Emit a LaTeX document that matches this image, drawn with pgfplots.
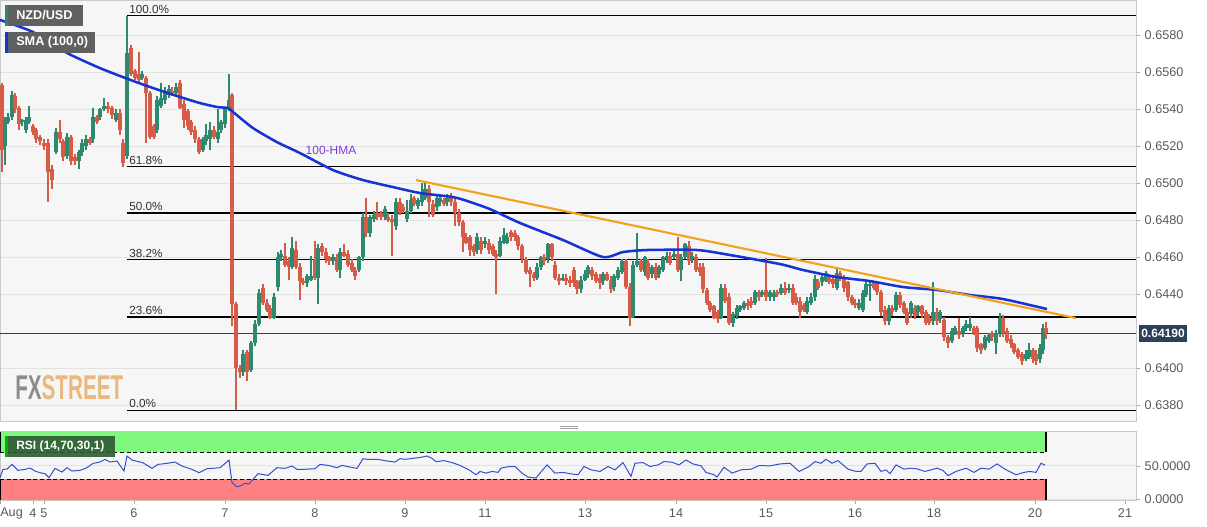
\documentclass[border=0pt]{standalone}
\usepackage{fontspec}
\setmainfont{Liberation Sans}
\usepackage{pgfplots}
\usepackage{pgfplotstable}
\pgfplotsset{compat=1.18}

\definecolor{cgreen}{HTML}{2E8A6E}
\definecolor{cred}{HTML}{D75C48}
\definecolor{smablue}{HTML}{1633D4}
\definecolor{tlorange}{HTML}{F4A11D}
\definecolor{rsiblue}{HTML}{3350D0}
\definecolor{zgreen}{HTML}{80F880}
\definecolor{zred}{HTML}{FF8080}
\definecolor{panelbg}{HTML}{F6F6F6}
\definecolor{gridc}{HTML}{E2E2E2}
\definecolor{borderc}{HTML}{CACACA}
\definecolor{tickc}{HTML}{5A5A5A}
\definecolor{lblbox}{HTML}{606060}
\definecolor{pricec}{HTML}{2D4059}
\definecolor{hmac}{HTML}{7D3CD8}
\definecolor{fxgray}{HTML}{8C8C8C}
\definecolor{fxorange}{HTML}{E9B87C}
\definecolor{rsibox}{HTML}{2F5A32}

% hourly NZD/USD candles, x in chart pixels, u = 1 for a rising candle
\pgfplotstableread{
x o h l c u
2 0.6553 0.6554 0.6506 0.6518 0
5 0.6520 0.6536 0.6510 0.6534 1
8 0.6533 0.6538 0.6532 0.6536 1
12 0.6536 0.6550 0.6534 0.6548 1
15 0.6547 0.6549 0.6538 0.6540 0
19 0.6541 0.6542 0.6529 0.6532 0
22 0.6533 0.6535 0.6531 0.6534 1
26 0.6529 0.6536 0.6527 0.6534 1
29 0.6533 0.6542 0.6532 0.6536 1
33 0.6531 0.6532 0.6526 0.6528 0
36 0.6529 0.6530 0.6522 0.6524 0
40 0.6525 0.6526 0.6521 0.6523 0
44 0.6522 0.6524 0.6518 0.6520 0
48 0.6522 0.6524 0.6490 0.6506 0
52 0.6508 0.6510 0.6497 0.6502 0
56 0.6517 0.6530 0.6516 0.6528 1
60 0.6528 0.6534 0.6522 0.6524 0
63 0.6523 0.6524 0.6512 0.6514 0
67 0.6515 0.6527 0.6513 0.6525 1
71 0.6525 0.6526 0.6510 0.6512 0
75 0.6514 0.6516 0.6510 0.6512 0
79 0.6512 0.6518 0.6508 0.6517 1
82 0.6517 0.6524 0.6515 0.6522 1
86 0.6520 0.6526 0.6518 0.6524 1
90 0.6524 0.6525 0.6521 0.6522 0
93 0.6524 0.6541 0.6522 0.6536 1
97 0.6536 0.6537 0.6532 0.6533 0
100 0.6536 0.6541 0.6534 0.6540 1
104 0.6540 0.6546 0.6539 0.6542 1
108 0.6542 0.6544 0.6538 0.6540 0
112 0.6541 0.6542 0.6535 0.6537 0
116 0.6534 0.6540 0.6533 0.6538 1
120 0.6538 0.6540 0.6526 0.6529 0
123 0.6522 0.6524 0.6509 0.6511 0
127 0.6515 0.65905 0.6513 0.65705 1
131 0.6573 0.6575 0.6558 0.6559 0
135 0.6561 0.6562 0.6556 0.6557 0
139 0.6559 0.6571 0.6554 0.6556 0
142 0.6557 0.6561 0.6556 0.6559 1
146 0.6557 0.6558 0.6522 0.6549 0
150 0.6549 0.6550 0.6524 0.6525 0
154 0.6531 0.6532 0.6524 0.6525 0
157 0.6529 0.6547 0.6527 0.6545 1
161 0.6542 0.6554 0.6541 0.6546 1
165 0.6545 0.6552 0.6543 0.6550 1
169 0.6548 0.6553 0.6546 0.6551 1
172 0.6550 0.6552 0.6547 0.6549 0
176 0.6549 0.6554 0.6547 0.6552 1
180 0.6554 0.6556 0.6540 0.6541 0
184 0.6543 0.6545 0.6530 0.6534 0
188 0.6539 0.6540 0.6529 0.6531 0
191 0.6533 0.6534 0.6526 0.6528 0
195 0.6529 0.6531 0.6522 0.6524 0
199 0.6524 0.6525 0.6516 0.6517 0
203 0.6518 0.6525 0.6517 0.6524 1
206 0.6523 0.6532 0.6521 0.6526 1
210 0.6524 0.6533 0.6518 0.6529 1
214 0.6529 0.6531 0.6524 0.6525 0
218 0.6524 0.6540 0.6522 0.6528 1
221 0.6529 0.6534 0.6527 0.6533 1
225 0.6532 0.6541 0.6530 0.6540 1
229 0.6540 0.6559 0.6539 0.6545 1
232 0.6548 0.6549 0.6423 0.6435 0
236 0.6435 0.6436 0.63775 0.6400 0
240 0.6400 0.6402 0.6395 0.6398 0
243 0.6398 0.6410 0.6396 0.6408 1
247 0.6409 0.6410 0.6393 0.6398 0
251 0.6399 0.6415 0.6398 0.6414 1
255 0.6414 0.6426 0.6412 0.6424 1
259 0.6424 0.6443 0.6423 0.6441 1
263 0.64435 0.64455 0.64345 0.64355 0
267 0.64355 0.64375 0.64305 0.64315 0
270 0.64325 0.64345 0.64265 0.64275 0
274 0.64275 0.64405 0.64265 0.64385 1
278 0.6444 0.6463 0.6442 0.6460 1
281 0.6460 0.6464 0.6458 0.6462 1
285 0.6461 0.6468 0.6455 0.6456 0
289 0.6458 0.6460 0.6448 0.6455 0
292 0.6455 0.6471 0.6454 0.6465 1
296 0.6464 0.6469 0.6454 0.6455 0
300 0.6455 0.6457 0.6437 0.6447 0
303 0.6447 0.6449 0.6445 0.6446 0
307 0.6446 0.6451 0.6444 0.6450 1
311 0.6448 0.6461 0.6447 0.6450 1
315 0.6459 0.6469 0.6448 0.6449 0
318 0.6449 0.6467 0.6435 0.6465 1
322 0.6466 0.6468 0.6461 0.6463 0
326 0.6463 0.6465 0.6457 0.6459 0
329 0.6460 0.6461 0.6456 0.6458 0
333 0.6458 0.6462 0.6456 0.6460 1
337 0.6460 0.6462 0.6452 0.6453 0
340 0.6453 0.6465 0.6449 0.6463 1
344 0.6463 0.6467 0.6460 0.6461 0
348 0.6462 0.6464 0.6455 0.6456 0
352 0.6457 0.6459 0.6452 0.6453 0
355 0.6453 0.6455 0.6448 0.6450 0
359 0.6453 0.6461 0.6452 0.6460 1
363 0.6460 0.6484 0.6458 0.6482 1
366 0.6482 0.6492 0.6471 0.6473 0
370 0.6473 0.6483 0.6471 0.6482 1
374 0.6481 0.6485 0.6479 0.6483 1
377 0.6484 0.6490 0.6480 0.6482 0
381 0.6484 0.6485 0.6480 0.6482 0
385 0.6482 0.6488 0.6480 0.6486 1
388 0.6482 0.6484 0.6479 0.6480 0
392 0.6481 0.6483 0.6461 0.6479 0
396 0.6477 0.6492 0.6475 0.6490 1
400 0.6490 0.6492 0.6483 0.6484 0
403 0.6487 0.6489 0.6484 0.6485 0
407 0.6481 0.6491 0.6479 0.6485 1
411 0.6485 0.6494 0.6484 0.6491 1
414 0.6492 0.6493 0.6488 0.6489 0
418 0.6488 0.6492 0.6486 0.6491 1
422 0.6490 0.6500 0.6488 0.6495 1
425 0.6492 0.6500 0.6491 0.6497 1
429 0.6497 0.6499 0.6482 0.6490 0
433 0.6489 0.6491 0.6482 0.6483 0
437 0.6487 0.6493 0.6485 0.6492 1
440 0.6490 0.6494 0.6488 0.6492 1
444 0.6491 0.6492 0.6488 0.6489 0
447 0.6490 0.6494 0.6488 0.6492 1
451 0.6493 0.6495 0.6488 0.6490 0
455 0.6490 0.6492 0.6477 0.6484 0
459 0.6484 0.6486 0.6477 0.6479 0
463 0.6479 0.6480 0.6463 0.6471 0
466 0.6471 0.6473 0.6467 0.6468 0
470 0.6471 0.6472 0.6461 0.6464 0
474 0.6466 0.6467 0.6461 0.6463 0
477 0.6464 0.6473 0.6462 0.6471 1
481 0.6469 0.6471 0.6462 0.6464 0
485 0.6467 0.6471 0.6465 0.6469 1
489 0.6468 0.6470 0.6462 0.6464 0
493 0.6466 0.6467 0.6461 0.6462 0
496 0.6462 0.6464 0.6440 0.6460 0
500 0.6461 0.6471 0.6460 0.6469 1
504 0.6468 0.6476 0.6467 0.6472 1
507 0.6468 0.6473 0.6467 0.6471 1
511 0.6474 0.6475 0.6469 0.6471 0
515 0.6473 0.6475 0.6469 0.6471 0
518 0.6471 0.6472 0.6464 0.6466 0
522 0.6466 0.6467 0.6457 0.6459 0
526 0.6459 0.6460 0.6451 0.6452 0
530 0.6453 0.6455 0.6444 0.6451 0
534 0.6451 0.6452 0.6447 0.6449 0
537 0.6449 0.6457 0.6448 0.6455 1
541 0.6455 0.6461 0.6453 0.6460 1
544 0.6460 0.6462 0.6456 0.6458 0
548 0.6459 0.6468 0.6457 0.6467 1
552 0.6467 0.6468 0.6458 0.6460 0
555 0.6456 0.6458 0.6448 0.6449 0
559 0.6449 0.6451 0.6445 0.6447 0
563 0.6448 0.6451 0.6447 0.6449 1
566 0.6449 0.6451 0.6445 0.6447 0
570 0.6448 0.6450 0.6444 0.6446 0
574 0.6453 0.6455 0.6444 0.6446 0
577 0.6447 0.6448 0.6440 0.6443 0
581 0.6443 0.6450 0.6441 0.6448 1
585 0.6448 0.6453 0.6447 0.6451 1
588 0.6451 0.6456 0.6449 0.6455 1
592 0.6453 0.6455 0.6448 0.6450 0
596 0.6451 0.6452 0.6446 0.6447 0
600 0.6449 0.6451 0.6443 0.6446 0
603 0.6447 0.6452 0.6445 0.6451 1
607 0.6451 0.6452 0.6447 0.6448 0
611 0.6448 0.6450 0.6441 0.6443 0
614 0.6444 0.6451 0.6442 0.6450 1
618 0.6449 0.6455 0.6448 0.6453 1
622 0.6452 0.6459 0.6451 0.6458 1
626 0.6458 0.6459 0.6443 0.6444 0
630 0.6444 0.6446 0.6423 0.6427 0
633 0.6428 0.6458 0.6427 0.6456 1
637 0.6456 0.6473 0.6455 0.6458 1
641 0.6458 0.6459 0.6452 0.6453 0
645 0.6452 0.6461 0.6450 0.6460 1
648 0.6457 0.6459 0.6448 0.6449 0
652 0.6451 0.6456 0.6449 0.6455 1
656 0.6455 0.6457 0.6448 0.6449 0
659 0.6451 0.6456 0.6449 0.6455 1
663 0.6453 0.6461 0.6452 0.6460 1
667 0.6459 0.6463 0.6457 0.6461 1
670 0.6461 0.6463 0.6456 0.6457 0
674 0.6460 0.6464 0.6459 0.6462 1
678 0.6462 0.6471 0.6452 0.6453 0
681 0.6453 0.6462 0.6447 0.6460 1
685 0.6460 0.6468 0.6459 0.6467 1
689 0.6466 0.6469 0.6456 0.6458 0
692 0.6459 0.6463 0.6457 0.6461 1
696 0.6460 0.6462 0.6452 0.6453 0
700 0.6455 0.6457 0.6450 0.6452 0
703 0.6455 0.6457 0.6441 0.6443 0
707 0.64425 0.64435 0.64345 0.64355 0
710 0.64355 0.64365 0.64305 0.64315 0
714 0.64335 0.64345 0.64265 0.64275 0
718 0.64305 0.64315 0.64245 0.64265 0
721 0.64275 0.64455 0.64265 0.64435 1
725 0.64435 0.64455 0.64355 0.64365 0
729 0.64385 0.64405 0.64235 0.64245 0
733 0.64245 0.64305 0.64225 0.64295 1
737 0.64285 0.64345 0.64265 0.64325 1
740 0.64315 0.64345 0.64305 0.64335 1
744 0.64325 0.64365 0.64315 0.64355 1
748 0.64355 0.64375 0.64315 0.64335 0
751 0.64365 0.64385 0.64325 0.64345 0
755 0.64355 0.64425 0.64345 0.64415 1
759 0.64415 0.64425 0.64365 0.64385 0
762 0.64395 0.64425 0.64385 0.64415 1
766 0.64425 0.64595 0.64365 0.64385 0
770 0.64385 0.64425 0.64365 0.64415 1
774 0.64385 0.64425 0.64365 0.64405 1
777 0.64415 0.64425 0.64385 0.64395 0
781 0.64405 0.64455 0.64395 0.64435 1
785 0.64435 0.64465 0.64395 0.64405 0
789 0.64425 0.64455 0.64405 0.64435 1
793 0.64435 0.64455 0.64345 0.64355 0
796 0.64385 0.64405 0.64345 0.64355 0
800 0.64365 0.64385 0.64275 0.64305 0
804 0.64345 0.64355 0.64305 0.64315 0
807 0.64305 0.64385 0.64295 0.64365 1
811 0.64355 0.64405 0.64345 0.64385 1
815 0.64385 0.64505 0.64365 0.64485 1
818 0.64465 0.64485 0.64425 0.64435 0
822 0.64465 0.64505 0.64445 0.64495 1
826 0.64475 0.64525 0.64465 0.64515 1
829 0.64495 0.64505 0.64455 0.64465 0
833 0.64485 0.64505 0.64435 0.64455 0
837 0.64435 0.64535 0.64425 0.64515 1
840 0.64515 0.64525 0.64475 0.64485 0
844 0.64495 0.64505 0.64415 0.64435 0
848 0.64465 0.64475 0.64365 0.64385 0
852 0.64385 0.64395 0.64345 0.64355 0
855 0.64355 0.64375 0.64325 0.64345 0
859 0.64325 0.64375 0.64315 0.64355 1
863 0.64315 0.64425 0.64305 0.64405 1
866 0.64395 0.64465 0.64385 0.64455 1
870 0.64445 0.64465 0.64365 0.64455 1
874 0.64465 0.64475 0.64425 0.64435 0
877 0.64455 0.64465 0.64395 0.64415 0
881 0.64415 0.64425 0.64285 0.64305 0
885 0.64315 0.64335 0.64235 0.64255 0
889 0.64255 0.64345 0.64235 0.64325 1
892 0.64325 0.64345 0.64285 0.64305 0
896 0.64315 0.64415 0.64305 0.64395 1
900 0.64395 0.64415 0.64325 0.64345 0
904 0.64355 0.64365 0.64295 0.64305 0
907 0.64305 0.64325 0.64235 0.64245 0
911 0.64295 0.64365 0.64275 0.64355 1
915 0.64325 0.64345 0.64265 0.64285 0
918 0.64305 0.64345 0.64285 0.64335 1
922 0.64335 0.64345 0.64275 0.64295 0
926 0.64305 0.64315 0.64235 0.64245 0
929 0.64275 0.64295 0.64235 0.64245 0
933 0.64255 0.64465 0.64235 0.64305 1
937 0.64305 0.64325 0.64235 0.64255 0
940 0.64265 0.64315 0.64245 0.64305 1
944 0.6426 0.6428 0.6415 0.6417 0
948 0.6417 0.6418 0.6411 0.6414 0
952 0.6415 0.6422 0.6414 0.6420 1
955 0.6419 0.6423 0.6418 0.6422 1
959 0.6420 0.6427 0.6416 0.6418 0
963 0.6419 0.6423 0.6417 0.6422 1
966 0.6422 0.6426 0.6420 0.6424 1
970 0.6422 0.6428 0.6420 0.6424 1
974 0.6422 0.6423 0.6418 0.6419 0
977 0.6422 0.6423 0.6409 0.6411 0
981 0.6413 0.6414 0.6408 0.6410 0
985 0.6411 0.6418 0.6410 0.6417 1
989 0.6415 0.6419 0.6414 0.6418 1
992 0.6419 0.6420 0.6415 0.6417 0
996 0.6414 0.6421 0.6408 0.6419 1
1000 0.6419 0.6430 0.6417 0.6427 1
1003 0.6427 0.6429 0.6417 0.6419 0
1007 0.6420 0.6422 0.6414 0.6415 0
1011 0.6416 0.6418 0.6411 0.6413 0
1014 0.6413 0.6414 0.6408 0.6409 0
1018 0.6410 0.6411 0.6405 0.6406 0
1022 0.6408 0.6409 0.6402 0.6404 0
1026 0.6405 0.6410 0.6404 0.6408 1
1029 0.6406 0.6414 0.6405 0.6410 1
1033 0.6410 0.6411 0.6403 0.6405 0
1036 0.6408 0.6410 0.6402 0.6404 0
1040 0.6405 0.6413 0.6403 0.6411 1
1043 0.6410 0.6424 0.6408 0.6422 1
1046 0.6422 0.6425 0.6416 0.6419 0
}\candles

\pgfplotsset{
  panel/.style={scale only axis, width=852pt, xmin=0, xmax=1136,
    axis background/.style={fill=panelbg},
    axis line style={draw=borderc},
    tick align=outside, major tick length=3pt,
    tick style={draw=gray!70},
    ytick pos=right, yticklabel pos=right,
    scaled y ticks=false,
    ymajorgrids, grid style={draw=gridc},
    tick label style={font=\fontsize{9.5}{11}\selectfont, text=tickc},
    /pgf/number format/fixed, /pgf/number format/fixed zerofill,
    /pgf/number format/precision=4, /pgf/number format/assume math mode=true},
}

\begin{document}
\begin{tikzpicture}
\fill[white] (0,0) rectangle (905.25pt,-394.5pt);
\useasboundingbox (0,0) rectangle (905.25pt,-394.5pt);

% price panel
\begin{axis}[panel, at={(0pt,0pt)}, anchor=north west, height=316.3pt,
  ymin=0.63712, ymax=0.65991, xtick=\empty,
  ytick={0.638,0.640,0.644,0.646,0.648,0.650,0.652,0.654,0.656,0.658},
  colormap={candle}{color=(cred) color=(cgreen)},
  point meta min=0, point meta max=1]
% fibonacci retracement
\addplot[black, line width=0.8pt] coordinates {(127,0.65905) (1136,0.65905)};
\addplot[black, line width=0.8pt] coordinates {(127,0.65091) (1136,0.65091)};
\addplot[black, line width=0.8pt] coordinates {(127,0.64840) (1136,0.64840)};
\addplot[black, line width=0.8pt] coordinates {(127,0.64589) (1136,0.64589)};
\addplot[black, line width=0.8pt] coordinates {(127,0.64278) (1136,0.64278)};
\addplot[black, line width=0.8pt] coordinates {(127,0.63775) (1136,0.63775)};
% last price
\addplot[pricec, line width=0.7pt] coordinates {(0,0.64190) (1136,0.64190)};
% candles: wicks, then bodies
\addplot[-, line width=0.8pt, point meta=\thisrow{u},
  quiver={u=0, v=\thisrow{h}-\thisrow{l}, colored=mapped color,
    every arrow/.append style={line width=0.8pt}}]
  table[x=x, y=l] {\candles};
\addplot[-, line width=2.3pt, point meta=\thisrow{u},
  quiver={u=0, v=\thisrow{c}-\thisrow{o}, colored=mapped color,
    every arrow/.append style={line width=2.3pt}}]
  table[x=x, y=o] {\candles};
% 100-hour moving average
\addplot[smablue, line width=1.9pt, smooth, tension=0.4] coordinates {
(0,0.65883) (33,0.65818) (67,0.65705) (100,0.65623) (128,0.65564) (150,0.65521)
(180,0.65467) (200,0.65434) (217,0.65413) (228,0.65407) (233,0.65386) (253,0.65299)
(277,0.65223) (300,0.65164) (333,0.65072) (363,0.65018) (393,0.64980) (420,0.64948)
(453,0.64926) (467,0.64905) (490,0.64861) (520,0.64786) (563,0.64694) (603,0.64602)
(623,0.64629) (647,0.64640) (697,0.64640) (730,0.64613) (780,0.64564) (803,0.64532)
(837,0.64494) (870,0.64472) (903,0.64440) (937,0.64424) (970,0.64397) (1003,0.64375)
(1047,0.64321)};
% falling trend line
\addplot[tlorange, line width=1.6pt] coordinates {(416,0.65018) (1076,0.64272)};
\node[anchor=south west, inner sep=1.5pt, font=\fontsize{8.8}{10}\selectfont, text=black!80] at (axis cs:127,0.65905) {100.0\%};
\node[anchor=south west, inner sep=1.5pt, font=\fontsize{8.8}{10}\selectfont, text=black!80] at (axis cs:127,0.65091) {61.8\%};
\node[anchor=south west, inner sep=1.5pt, font=\fontsize{8.8}{10}\selectfont, text=black!80] at (axis cs:127,0.64840) {50.0\%};
\node[anchor=south west, inner sep=1.5pt, font=\fontsize{8.8}{10}\selectfont, text=black!80] at (axis cs:127,0.64589) {38.2\%};
\node[anchor=south west, inner sep=1.5pt, font=\fontsize{8.8}{10}\selectfont, text=black!80] at (axis cs:127,0.64278) {23.6\%};
\node[anchor=south west, inner sep=1.5pt, font=\fontsize{8.8}{10}\selectfont, text=black!80] at (axis cs:127,0.63775) {0.0\%};
\node[font=\fontsize{9}{10}\selectfont, text=hmac] at (axis cs:331,0.6518) {100-HMA};
\end{axis}

% RSI panel
\begin{axis}[panel, at={(0pt,-323.8pt)}, anchor=north west, height=51.2pt,
  ymin=-1.5, ymax=101, ytick={0,50},
  xtick pos=bottom,
  xtick={0,33,44,134,225,315,405,485,585,676,766,855,934,1035,1125},
  xticklabels={,4,5,6,7,8,9,11,13,14,15,16,18,20,21}]
\addplot[fill=zgreen, draw=none] coordinates {(0,70) (1046,70) (1046,101) (0,101) (0,70)};
\addplot[fill=zred, draw=none] coordinates {(0,-1.5) (1046,-1.5) (1046,30) (0,30) (0,-1.5)};
\addplot[black, densely dashed, line width=0.6pt] coordinates {(0,70) (1046,70)};
\addplot[black, densely dashed, line width=0.6pt] coordinates {(0,30) (1046,30)};
\addplot[black, line width=0.8pt] coordinates {(1046,70) (1046,101)};
\addplot[black, line width=0.8pt] coordinates {(1046,-1.5) (1046,30)};
\addplot[black, line width=0.8pt] coordinates {(0.5,-1.5) (0.5,30)};
\addplot[black, line width=0.8pt] coordinates {(0.5,70) (0.5,101)};
\addplot[rsiblue, line width=0.75pt] coordinates {
(0,32) (3,44.5) (7,45) (12,52) (18,43) (25,44.5) (30,46.5) (35,42) (40,39.5) (45,38)
(49,32) (55,46) (62,40.5) (67,47) (72,42) (80,43) (87,47) (93,53.5) (100,55.5) (105,59.5)
(110,55.5) (117,57) (124,42) (127,64.5) (132,58.5) (143,54.5) (152,46) (158,52) (167,53.5)
(175,55.5) (182,49.5) (192,44.5) (199,39.5) (207,45.5) (220,47) (229,58.5) (232,24.5)
(237,18.5) (240,19.5) (245,23.5) (249,22.5) (258,38) (268,35.5) (277,47) (285,46)
(292,49.5) (297,44.5) (303,44.5) (315,45.5) (320,52) (328,50.5) (337,47) (342,50.5)
(348,48.5) (357,46) (363,60.5) (368,59.5) (378,59.5) (387,57) (395,55.5) (400,60.5)
(405,59.6) (421,62.6) (427,64.6) (432,61) (436,56) (444,57.7) (452,54.7) (459,51)
(469,43.8) (476,36.4) (480,41.4) (486,38.9) (492,41.4) (498,40) (501,46.3) (509,48.8)
(515,48.8) (522,38.9) (528,33) (536,31.5) (540,38.9) (547,51.2) (555,38.9) (563,40)
(570,38) (578,36.4) (584,48.8) (591,43.8) (600,41.4) (608,48.8) (615,43.8) (623,54.7)
(631,34) (635,53.7) (643,54.7) (650,48.8) (658,51.2) (664,56.2) (672,55.2) (679,51.2)
(686,58.6) (693,52.7) (701,49.8) (706,40) (714,36.4) (717,33) (724,47.8) (732,38.9)
(741,43.8) (751,44.8) (759,50.2) (770,49.8) (780,52.7) (790,53.7) (799,41.4) (809,48.8)
(815,56.2) (821,53.7) (826,59.6) (832,53.7) (838,57.7) (848,44.8) (856,41.4) (861,41.4)
(867,52.7) (875,53.7) (881,41.4) (886,43.8) (890,38) (896,51.2) (904,44.8) (910,46.3)
(917,45.3) (925,41.4) (931,43.8) (937,46.3) (943,42.9) (948,35) (956,41.4) (966,46.3)
(974,40) (981,46.3) (989,44.8) (997,52.7) (1005,44.8) (1016,36.4) (1024,40) (1030,41.4)
(1036,40) (1041,53.7) (1045,51)};
\end{axis}

% labels and badges, in chart pixels
\begin{scope}[x=0.75pt, y=-0.75pt]
\fill[lblbox] (5,5) rectangle (83,26);
\fill[cgreen] (5,5) rectangle (7.5,26);
\node[anchor=west, inner sep=0pt, text=white, font=\bfseries\fontsize{9.5}{11}\selectfont] at (16,15.5) {NZD/USD};
\fill[lblbox] (5,32) rectangle (95,53);
\fill[smablue] (5,32) rectangle (7.5,53);
\node[anchor=west, inner sep=0pt, text=white, font=\bfseries\fontsize{9.5}{11}\selectfont] at (16,42.5) {SMA (100,0)};
\fill[rsibox, opacity=0.9] (5,436) rectangle (115,457);
\fill[green!70!black] (5,436) rectangle (7.5,457);
\node[anchor=west, inner sep=0pt, text=white, font=\bfseries\fontsize{9}{11}\selectfont] at (16,446.5) {RSI (14,70,30,1)};
\node[anchor=west, inner sep=0pt] at (15,388) {\resizebox{81pt}{18pt}{\bfseries\textcolor{fxgray}{FX}\textcolor{fxorange}{STREET}}};
\fill[pricec] (1139,325) rectangle (1187,342);
\node[text=white, inner sep=0pt, font=\bfseries\fontsize{9}{11}\selectfont] at (1163,333.5) {0.64190};
\draw[gray!70, line width=0.6pt] (560,426) -- (578,426) (560,428) -- (578,428);
\node[anchor=west, inner sep=0pt, text=tickc, font=\fontsize{9.5}{11}\selectfont] at (0,513) {Aug};
\end{scope}
\end{tikzpicture}
\end{document}
